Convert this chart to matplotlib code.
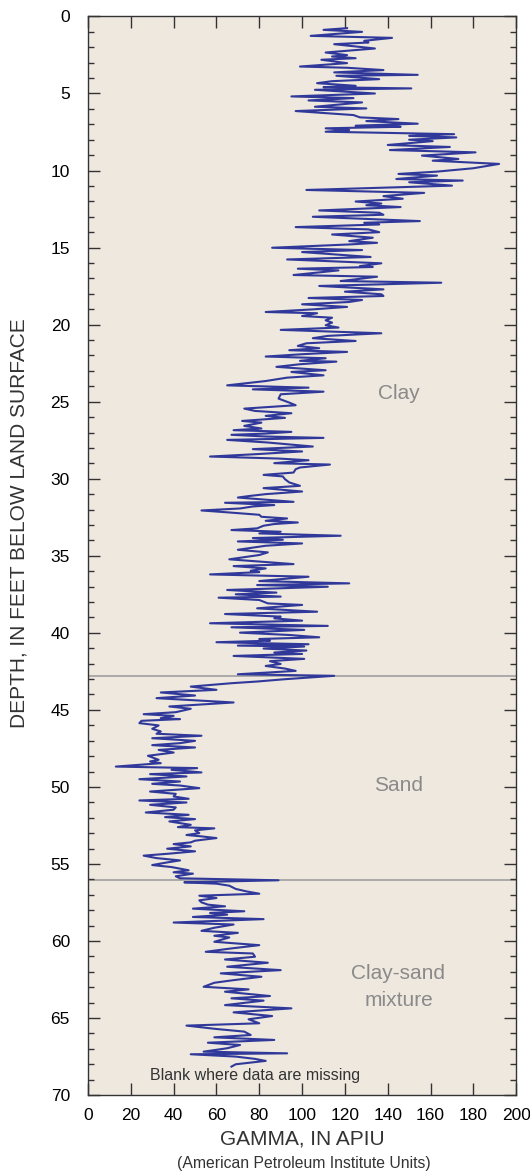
import matplotlib
matplotlib.use("Agg")
from matplotlib import pyplot as plt
from matplotlib.ticker import MultipleLocator

plt.rcParams['font.family'] = ['Liberation Sans', 'DejaVu Sans']

# gamma log: depth (ft) and gamma (APIU)
depth = [
    0.76, 0.87, 1.00, 1.26, 1.39, 1.58, 1.69, 1.80, 2.08, 2.34, 2.51, 2.60, 2.71, 2.81,
    3.03, 3.25, 3.33, 3.48, 3.63, 3.79, 3.85, 4.07, 4.20, 4.33, 4.50, 4.59, 4.67, 4.76,
    5.00, 5.19, 5.30, 5.45, 5.58, 5.86, 5.97, 6.14, 6.40, 6.55, 6.66, 6.79, 6.96, 7.09,
    7.16, 7.26, 7.37, 7.48, 7.64, 7.75, 7.85, 8.00, 8.09, 8.34, 8.47, 8.67, 8.82, 9.03,
    9.25, 9.36, 9.57, 9.85, 10.07, 10.22, 10.33, 10.55, 10.65, 10.76, 10.98, 11.26, 11.45,
    11.66, 11.83, 12.01, 12.14, 12.25, 12.37, 12.59, 12.74, 12.87, 13.00, 13.28, 13.39,
    13.50, 13.67, 13.82, 14.00, 14.15, 14.36, 14.58, 14.69, 14.79, 15.01, 15.16, 15.29,
    15.61, 15.77, 16.02, 16.20, 16.26, 16.37, 16.48, 16.78, 16.89, 17.06, 17.17, 17.28,
    17.49, 17.71, 17.86, 18.03, 18.14, 18.27, 18.40, 18.53, 18.68, 18.85, 19.01, 19.18,
    19.26, 19.44, 19.55, 19.72, 19.87, 20.04, 20.19, 20.34, 20.56, 20.73, 20.88, 21.06,
    21.21, 21.38, 21.53, 21.66, 21.77, 21.92, 22.07, 22.18, 22.35, 22.40, 22.57, 22.74,
    22.96, 23.07, 23.29, 23.44, 23.66, 23.94, 24.09, 24.20, 24.35, 24.52, 24.80, 25.06,
    25.23, 25.45, 25.60, 25.75, 25.92, 26.05, 26.25, 26.36, 26.57, 26.74, 26.85, 26.96,
    27.07, 27.15, 27.26, 27.35, 27.48, 27.65, 27.91, 28.08, 28.23, 28.41, 28.56, 28.69,
    28.80, 28.99, 29.08, 29.27, 29.38, 29.60, 29.75, 29.85, 30.03, 30.24, 30.46, 30.61,
    30.83, 31.00, 31.11, 31.22, 31.50, 31.56, 31.71, 31.80, 31.93, 32.06, 32.19, 32.34,
    32.47, 32.58, 32.73, 32.84, 32.94, 33.05, 33.22, 33.33, 33.44, 33.55, 33.70, 33.85,
    33.96, 34.07, 34.20, 34.35, 34.61, 34.78, 34.95, 35.23, 35.54, 35.67, 35.82, 35.97,
    36.06, 36.21, 36.36, 36.64, 36.79, 36.90, 37.01, 37.22, 37.39, 37.50, 37.65, 37.72,
    37.87, 38.09, 38.19, 38.41, 38.63, 38.78, 38.95, 39.06, 39.21, 39.38, 39.55, 39.64,
    39.81, 39.99, 40.14, 40.29, 40.40, 40.51, 40.61, 40.74, 40.83, 40.89, 41.02, 41.15,
    41.28, 41.37, 41.50, 41.69, 41.84, 42.02, 42.15, 42.32, 42.47, 42.69, 42.79, 43.01,
    43.16, 43.27, 43.49, 43.70, 43.87, 44.07, 44.24, 44.52, 44.78, 44.93, 45.15, 45.28,
    45.39, 45.54, 45.60, 45.71, 45.86, 46.01, 46.23, 46.40, 46.55, 46.68, 46.84, 47.01,
    47.16, 47.29, 47.44, 47.60, 47.77, 47.98, 48.24, 48.35, 48.46, 48.68, 48.78, 48.89,
    49.06, 49.17, 49.32, 49.50, 49.65, 49.80, 49.91, 50.08, 50.30, 50.45, 50.62, 50.77,
    50.88, 51.01, 51.16, 51.33, 51.48, 51.66, 51.81, 51.96, 52.09, 52.24, 52.46, 52.61,
    52.69, 52.82, 53.00, 53.12, 53.21, 53.32, 53.49, 53.60, 53.71, 53.86, 54.01, 54.18,
    54.33, 54.46, 54.62, 54.77, 54.90, 55.07, 55.20, 55.41, 55.54, 55.63, 55.80, 55.93,
    56.06, 56.19, 56.28, 56.41, 56.62, 56.78, 56.93, 57.06, 57.21, 57.36, 57.49, 57.64,
    57.75, 57.90, 58.07, 58.18, 58.29, 58.44, 58.58, 58.80, 58.93, 59.14, 59.34, 59.47,
    59.66, 59.77, 60.05, 60.27, 60.48, 60.70, 60.81, 61.02, 61.20, 61.41, 61.67, 61.89,
    62.10, 62.32, 62.54, 62.71, 62.97, 63.14, 63.29, 63.57, 63.72, 63.87, 64.16, 64.37,
    64.63, 64.87, 65.08, 65.34, 65.49, 65.71, 65.88, 66.10, 66.25, 66.42, 66.60, 66.75,
    66.96, 67.18, 67.29, 67.35, 67.50, 67.65, 67.78, 67.89, 68.00, 68.15,
]
gamma = [
    121, 110, 128, 104, 142, 129, 131, 115, 134, 111, 121, 114, 125, 109,
    121, 99, 121, 138, 115, 154, 116, 136, 114, 107, 125, 110, 151, 106,
    134, 95, 124, 103, 128, 106, 130, 97, 124, 127, 145, 130, 154, 125,
    146, 111, 122, 111, 171, 150, 172, 150, 161, 140, 169, 141, 181, 156,
    173, 161, 192, 180, 163, 145, 163, 144, 175, 150, 170, 102, 157,
    138, 147, 125, 137, 130, 146, 108, 136, 138, 105, 155, 129,
    136, 97, 131, 136, 114, 133, 122, 135, 123, 86, 128, 100,
    132, 93, 137, 127, 133, 98, 117, 96, 135, 125, 118, 165,
    108, 138, 120, 137, 138, 103, 128, 122, 100, 121, 105, 83,
    107, 100, 114, 111, 114, 111, 117, 90, 137, 112, 105, 125,
    102, 98, 108, 94, 121, 100, 83, 111, 99, 116, 99, 88,
    111, 95, 110, 93, 83, 65, 103, 77, 110, 90, 89, 94,
    97, 73, 78, 95, 83, 92, 72, 81, 73, 81, 68, 95,
    83, 67, 83, 110, 65, 84, 105, 77, 100, 78, 57, 89,
    103, 87, 113, 99, 97, 96, 82, 91, 92, 94, 99, 82,
    100, 83, 76, 70, 96, 64, 87, 77, 71, 53, 66, 80,
    81, 93, 83, 98, 87, 82, 79, 67, 90, 80, 118, 77,
    91, 70, 100, 83, 70, 84, 80, 66, 96, 68, 83, 76,
    80, 57, 103, 80, 122, 79, 112, 65, 88, 69, 90, 61,
    80, 84, 100, 79, 107, 64, 90, 87, 100, 57, 112, 67,
    101, 71, 94, 108, 80, 85, 60, 103, 70, 101, 82, 102,
    87, 100, 68, 101, 85, 90, 83, 92, 97, 70, 115, 92,
    79, 67, 48, 60, 34, 50, 32, 68, 38, 48, 41, 26,
    40, 34, 43, 25, 24, 33, 30, 34, 32, 53, 30, 50,
    43, 30, 50, 33, 40, 28, 33, 29, 34, 13, 51, 39,
    53, 29, 46, 24, 43, 30, 43, 52, 29, 41, 40, 47,
    24, 46, 29, 41, 40, 27, 47, 36, 50, 38, 48, 42,
    59, 50, 52, 46, 53, 60, 50, 48, 40, 48, 37, 50,
    38, 26, 32, 43, 37, 30, 39, 47, 40, 49, 41, 43,
    89, 45, 60, 66, 69, 74, 80, 52, 60, 52, 53, 56,
    64, 49, 73, 57, 65, 49, 82, 40, 68, 59, 53, 70,
    59, 66, 59, 80, 67, 55, 77, 78, 64, 84, 65, 90,
    62, 81, 68, 59, 54, 75, 64, 85, 67, 82, 64, 95,
    68, 86, 75, 80, 46, 60, 73, 76, 59, 87, 56, 71,
    65, 54, 93, 48, 69, 78, 83, 76, 69, 67,
]

# unit boundaries (ft) and labels
boundaries = [42.78, 56.07]
units = ["Clay", "Sand", "Clay-sand\nmixture"]
unit_depths = [24.5, 49.9, 63.0]

fig = plt.figure(figsize=(5.3, 11.75), dpi=100)
ax = fig.add_axes([0.166, 0.068, 0.808, 0.918])
ax.set_facecolor("#eee8df")

for b in boundaries:
    ax.axhline(b, color="#999999", lw=1.1, zorder=1)

ax.plot(gamma, depth, color="#30399a", lw=1.5, zorder=2)

for name, d in zip(units, unit_depths):
    ax.text(145, d, name, ha="center", va="center", fontsize=15,
            color="#8a8a8a", linespacing=1.5)

ax.text(29, 68.75, "Blank where data are missing", ha="left", va="center",
        fontsize=11.5, color="#333333")

ax.set_xlim(0, 200)
ax.set_ylim(70, 0)
ax.xaxis.set_major_locator(MultipleLocator(20))
ax.yaxis.set_major_locator(MultipleLocator(5))
ax.yaxis.set_minor_locator(MultipleLocator(1))
ax.tick_params(which="both", direction="in", top=True, right=True,
               color="#333333", width=1.0, labelsize=12.5)
ax.tick_params(which="major", length=8.5)
ax.tick_params(which="minor", length=4.3)
ax.tick_params(axis="x", pad=9)
ax.tick_params(axis="y", pad=13)
for s in ax.spines.values():
    s.set_color("#333333")
    s.set_linewidth(1.0)

ax.set_xlabel("GAMMA, IN APIU", fontsize=15, color="#333333", labelpad=5)
ax.set_ylabel("DEPTH, IN FEET BELOW LAND SURFACE", fontsize=15,
              color="#333333")
ax.yaxis.set_label_coords(-0.138, 0.530)
fig.text(0.574, 0.003, "(American Petroleum Institute Units)", ha="center",
         va="bottom", fontsize=11.3, color="#333333")

fig.savefig("out.png", dpi=100)
